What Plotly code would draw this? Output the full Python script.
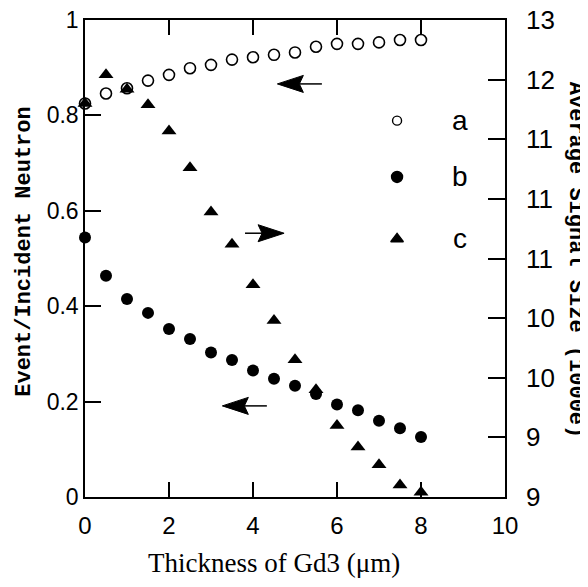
import plotly.graph_objects as go

# ---- data ----
thickness = [0, 0.5, 1, 1.5, 2, 2.5, 3, 3.5, 4, 4.5, 5, 5.5, 6, 6.5, 7, 7.5, 8]
series_a = [0.825, 0.846, 0.857, 0.873, 0.885, 0.899, 0.906, 0.917, 0.922,
            0.927, 0.932, 0.944, 0.950, 0.950, 0.953, 0.958, 0.958]
series_b = [0.544, 0.464, 0.415, 0.386, 0.352, 0.331, 0.303, 0.287, 0.265,
            0.248, 0.233, 0.216, 0.194, 0.182, 0.160, 0.144, 0.126]
series_c = [12.30, 12.54, 12.42, 12.29, 12.07, 11.76, 11.39, 11.12, 10.78,
            10.48, 10.15, 9.90, 9.60, 9.42, 9.27, 9.10, 9.04]

x_ticks = [0, 2, 4, 6, 8, 10]
left_ticks = [0, 0.2, 0.4, 0.6, 0.8, 1]
left_labels = ["0", "0.2", "0.4", "0.6", "0.8", "1"]
right_ticks = [9, 9.5, 10, 10.5, 11, 11.5, 12, 12.5, 13]
right_labels = ["9", "9", "10", "10", "11", "11", "11", "12", "13"]

legend_names = ["a", "b", "c"]
legend_symbols = ["circle-open", "circle", "triangle-up"]
legend_sizes = [9, 11, 11]
legend_y = [0.789, 0.671, 0.541]
legend_marker_x = 7.43
legend_text_x = 8.93

# arrows: tail x, tip x, y (left-axis units)
arrow_tail_x = [5.64, 3.81, 4.33]
arrow_tip_x = [4.58, 4.74, 3.27]
arrow_y = [0.866, 0.553, 0.191]

fig = go.Figure()

fig.add_trace(go.Scatter(
    x=thickness, y=series_a, mode="markers", name="a",
    marker=dict(symbol="circle-open", size=11, color="black", line=dict(width=1.6)),
    cliponaxis=False, showlegend=False))
fig.add_trace(go.Scatter(
    x=thickness, y=series_b, mode="markers", name="b",
    marker=dict(symbol="circle", size=12, color="black"),
    cliponaxis=False, showlegend=False))
fig.add_trace(go.Scatter(
    x=thickness, y=series_c, mode="markers", name="c", yaxis="y2",
    marker=dict(symbol="triangle-up", size=13, color="black"),
    cliponaxis=False, showlegend=False))

# legend drawn inside the plot
for name, sym, sz, ly in zip(legend_names, legend_symbols, legend_sizes, legend_y):
    fig.add_trace(go.Scatter(
        x=[legend_marker_x], y=[ly], mode="markers",
        marker=dict(symbol=sym, size=sz, color="black", line=dict(width=1.4, color="black")),
        showlegend=False, hoverinfo="skip"))
    fig.add_annotation(x=legend_text_x, y=ly, xref="x", yref="y", text=name,
                       showarrow=False, xanchor="center", yanchor="middle",
                       font=dict(family="Liberation Sans", size=28, color="black"))

# arrows as shapes
PX_X = 42.0   # pixels per x unit
PX_Y = 477.0  # pixels per left-y unit
head_len, head_hw, notch = 26.0, 8.5, 4.0
for tx0, tx1, ay in zip(arrow_tail_x, arrow_tip_x, arrow_y):
    d = 1 if tx1 > tx0 else -1
    base_x = tx1 - d * head_len / PX_X
    notch_x = tx1 - d * (head_len - notch) / PX_X
    hw = head_hw / PX_Y
    fig.add_shape(type="line", x0=tx0, x1=notch_x, y0=ay, y1=ay, xref="x", yref="y",
                  line=dict(color="black", width=1.5))
    path = (f"M {tx1},{ay} L {base_x},{ay + hw} L {notch_x},{ay} "
            f"L {base_x},{ay - hw} Z")
    fig.add_shape(type="path", path=path, xref="x", yref="y",
                  fillcolor="black", line=dict(color="black", width=1))

# axis titles as annotations
fig.add_annotation(x=-0.143, y=0.514, xref="paper", yref="paper",
                   text="<b>Event/Incident Neutron</b>", textangle=-90, showarrow=False,
                   xanchor="center", yanchor="middle",
                   font=dict(family="Liberation Mono", size=22, color="black"))
fig.add_annotation(x=1.167, y=0.497, xref="paper", yref="paper",
                   text="<b>Average Signal Size (1000e)</b>", textangle=90, showarrow=False,
                   xanchor="center", yanchor="middle",
                   font=dict(family="Liberation Mono", size=22, color="black"))
fig.add_annotation(x=0.45, y=-0.138, xref="paper", yref="paper",
                   text="Thickness of Gd3 (\u03bcm)", showarrow=False,
                   xanchor="center", yanchor="middle",
                   font=dict(family="Liberation Serif", size=27, color="black"))

axis_common = dict(showgrid=False, zeroline=False, showline=True, linecolor="black",
                   linewidth=1.5, ticks="inside", tickcolor="black", tickwidth=1.5,
                   automargin=False, ticklabeloverflow="allow")

fig.update_layout(
    width=588, height=587,
    margin=dict(l=77, r=91, t=12, b=98, autoexpand=False),
    paper_bgcolor="white", plot_bgcolor="white",
    xaxis=dict(range=[0, 10], tickvals=x_ticks, ticklen=15, mirror="ticks",
               tickfont=dict(family="Liberation Sans", size=24, color="black"),
               ticklabelstandoff=6, **axis_common),
    yaxis=dict(range=[0, 1], tickvals=left_ticks, ticktext=left_labels, ticklen=16,
               tickfont=dict(family="Liberation Sans", size=23, color="black"),
               ticklabelstandoff=0, **axis_common),
    yaxis2=dict(range=[9, 13], tickvals=right_ticks, ticktext=right_labels, ticklen=17,
                overlaying="y", side="right",
                tickfont=dict(family="Liberation Sans", size=26, color="black"),
                ticklabelstandoff=14, **axis_common),
)

fig.write_html("out.html")
